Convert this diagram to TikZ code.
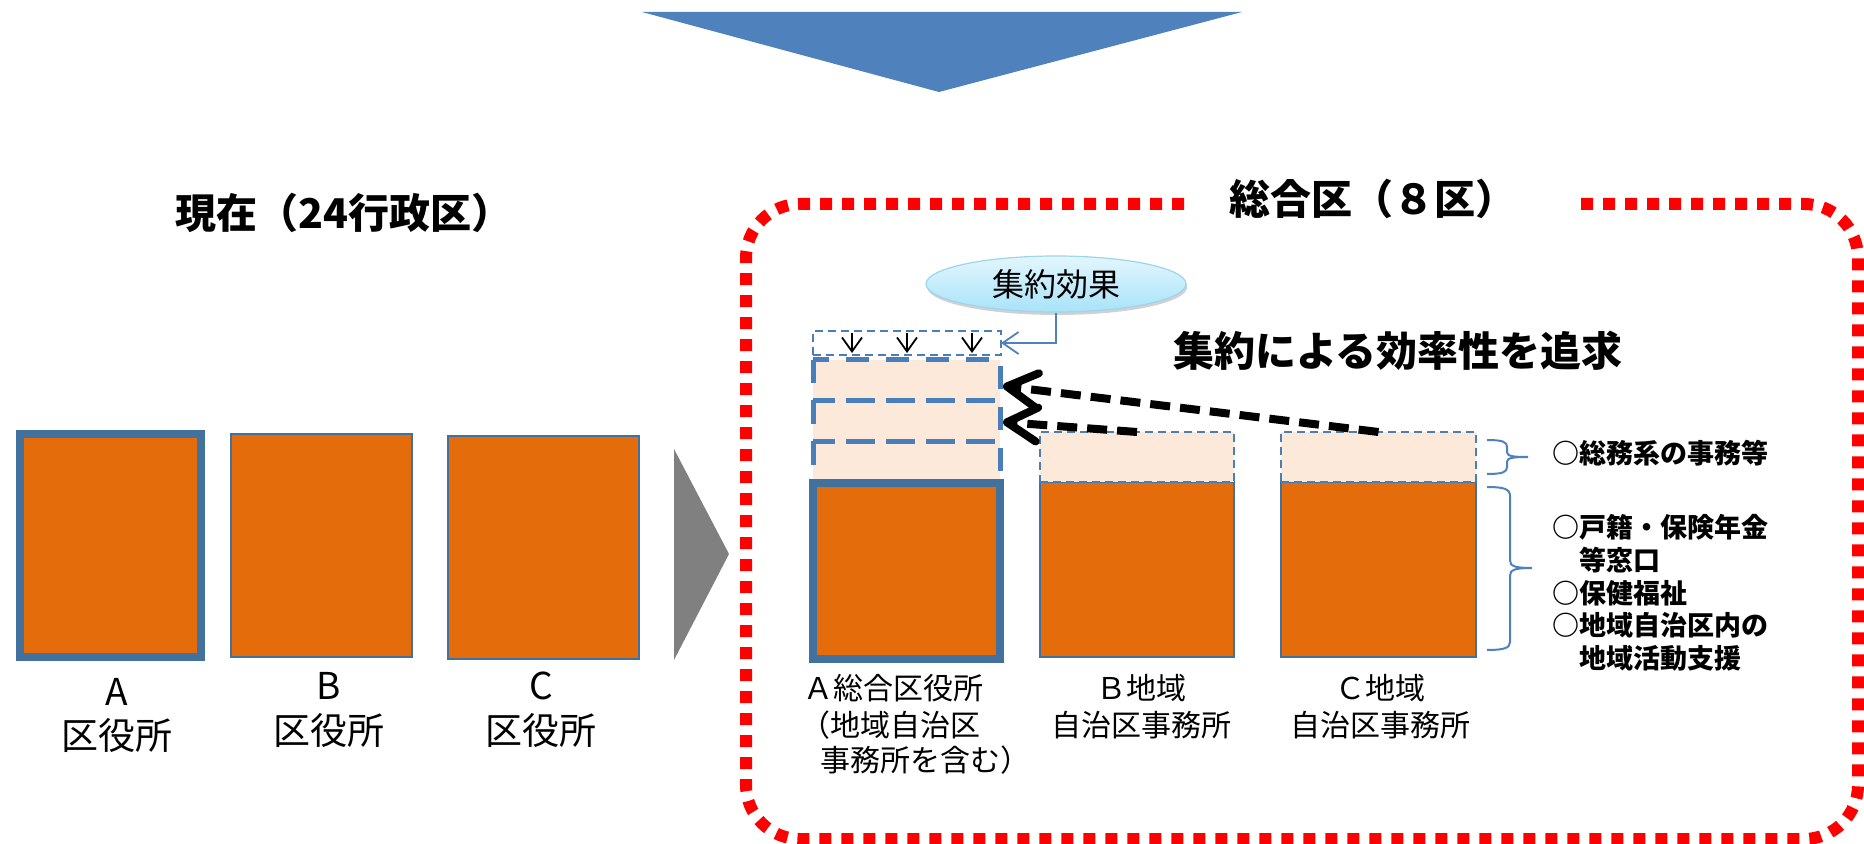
\documentclass[tikz,border=0pt]{standalone}
\usepackage{fontspec}
\setmainfont{Noto Sans CJK JP}
\usetikzlibrary{arrows.meta,shadows,shapes.geometric,fit}
\definecolor{orangeF}{HTML}{E46C0A}
\definecolor{peach}{HTML}{FDE9D9}
\definecolor{boxblue}{HTML}{41719C}
\definecolor{dashblue}{HTML}{4A7EBB}
\definecolor{triblue}{HTML}{4F81BD}
\definecolor{ellTop}{HTML}{E2F6FD}
\definecolor{ellBot}{HTML}{A9E3F9}
\definecolor{ellLine}{HTML}{9CD5EC}
\begin{document}
\begin{tikzpicture}[x=0.5pt,y=-0.5pt,
  obox/.style={fill=orangeF, draw=boxblue, line width=1pt, inner sep=0pt, outer sep=0pt},
  obthick/.style={obox, line width=4pt},
  pbox/.style={fill=peach, draw=dashblue, line width=1pt, dash pattern=on 4pt off 2.5pt, inner sep=0pt, outer sep=0pt},
  pfill/.style={fill=peach, inner sep=0pt, outer sep=0pt},
  thickdash/.style={draw=dashblue, line width=2.5pt, dash pattern=on 11.5pt off 8.5pt},
  smallbox/.style={draw=dashblue, line width=0.75pt, dash pattern=on 4pt off 2.5pt, fill=white, inner sep=0pt, outer sep=0pt},
  lab/.style={font=\fontsize{18.5pt}{22pt}\selectfont, inner sep=0pt},
  rlab/.style={font=\fontsize{15pt}{18pt}\selectfont, inner sep=0pt},
  ttl/.style={font=\bfseries\fontsize{20.5pt}{24pt}\selectfont, inner sep=0pt},
  lst/.style={font=\bfseries\fontsize{13.5pt}{16.3pt}\selectfont, inner sep=0pt, align=left},
  bigarrow/.style={line width=4pt, dash pattern=on 10pt off 5pt, -{Straight Barb[round,length=15pt,width=17pt]}},
  blueconn/.style={draw=triblue, line width=0.9pt, -{Straight Barb[length=8pt,width=11pt]}},
  downarr/.style={line width=0.9pt, -{Straight Barb[length=7pt,width=10pt]}},
  brc/.style={draw=triblue, line width=1pt}
]
\useasboundingbox (0,0) rectangle (1864,844);

% top blue triangle and gray triangle
\fill[triblue] (642,12) -- (1242,12) -- (939,92) -- cycle;
\fill[gray] (674,449) -- (674,660) -- (729,554) -- cycle;

% left boxes
\node[obthick, fit={(20,434)(201,657)}] (boxA) {};
\node[obox, fit={(231,434)(412,657)}] (boxB) {};
\node[obox, fit={(448,436)(639,659)}] (boxC) {};
\node[ttl] (tnow) at (344,213) {現在（24行政区）};
\node[lab] (lA1) at (117,692) {A};
\node[lab] (lA2) at (117,735) {区役所};
\node[lab] (lB1) at (329,686) {B};
\node[lab] (lB2) at (329,730) {区役所};
\node[lab] (lC1) at (541,686) {C};
\node[lab] (lC2) at (541,730) {区役所};

% red frame
\draw[red, line width=6pt, dash pattern=on 6pt off 5pt, rounded corners=27pt]
  (1184,204) -- (746,204) -- (746,839) -- (1858,839) -- (1858,204) -- (1575,204);
\node[ttl] (tsogo) at (1373,199) {総合区（８区）};

% A column (right)
\node[pfill, fit={(813,360)(1000,483)}] (pA) {};
\draw[thickdash] (813,360) rectangle (1000,401);
\draw[thickdash] (813,401) rectangle (1000,442);
\draw[thickdash] (813,442) rectangle (1000,483);
\node[obthick, fit={(813,483)(1000,659)}] (oA) {};
\node[smallbox, fit={(813,331)(1001,355)}] (small) {};
\coordinate (d1s) at (852,333); \coordinate (d1e) at (852,353);
\coordinate (d2s) at (907,333); \coordinate (d2e) at (907,353);
\coordinate (d3s) at (972,333); \coordinate (d3e) at (972,353);
\draw[downarr] (d1s) -- (d1e);
\draw[downarr] (d2s) -- (d2e);
\draw[downarr] (d3s) -- (d3e);

% B and C columns
\node[obox, fit={(1040,482)(1234,657)}] (oB) {};
\node[pbox, fit={(1040,432)(1234,482)}] (pB) {};
\node[obox, fit={(1281,482)(1476,657)}] (oC) {};
\node[pbox, fit={(1281,432)(1476,482)}] (pC) {};

% ellipse
\node[ellipse, minimum width=130pt, minimum height=28pt, top color=ellTop, bottom color=ellBot,
      draw=ellLine, line width=0.6pt, inner sep=0pt,
      drop shadow={shadow xshift=0.6pt, shadow yshift=-1.5pt, opacity=0.3, fill=black!60},
      font=\fontsize{16pt}{19pt}\selectfont] (ell) at (1056,284) {集約効果};
\draw[blueconn] (ell.south) |- (small.east);

\node[ttl] (tshuyaku) at (1398,351) {集約による効率性を追求};

% black dashed arrows
\coordinate (t1) at (1003,386);
\coordinate (t2) at (1003,422);
\draw[bigarrow] (pC.north) -- (t1);
\draw[bigarrow] (pB.north) -- (t2);

% braces
\draw[brc] (1487,440) .. controls (1503,440) and (1507,442) .. (1507,447) -- (1507,452)
  .. controls (1507,456) and (1512,457) .. (1528,457)
  .. controls (1512,457) and (1507,458) .. (1507,462) -- (1507,467)
  .. controls (1507,472) and (1503,474) .. (1487,474);
\draw[brc] (1487,487) .. controls (1504,487) and (1510,489) .. (1510,496) -- (1510,560)
  .. controls (1510,566) and (1514,568) .. (1532,568)
  .. controls (1514,568) and (1510,570) .. (1510,576) -- (1510,642)
  .. controls (1510,648) and (1504,650) .. (1487,650);

% list text
\node[lst, anchor=west] (li1) at (1552,453) {○総務系の事務等};
\node[lst, anchor=west] (li2) at (1552,593) {○戸籍・保険年金\\\phantom{○}等窓口\\○保健福祉\\○地域自治区内の\\\phantom{○}地域活動支援};

% labels under right boxes
\node[rlab, anchor=west] (ra1) at (803,688) {Ａ総合区役所};
\node[rlab, anchor=west] (ra2) at (800,725) {（地域自治区};
\node[rlab, anchor=west] (ra3) at (820,760) {事務所を含む）};
\node[rlab] (rb1) at (1141,688) {Ｂ地域};
\node[rlab] (rb2) at (1141,725) {自治区事務所};
\node[rlab] (rc1) at (1380,688) {Ｃ地域};
\node[rlab] (rc2) at (1380,725) {自治区事務所};
\end{tikzpicture}
\end{document}
